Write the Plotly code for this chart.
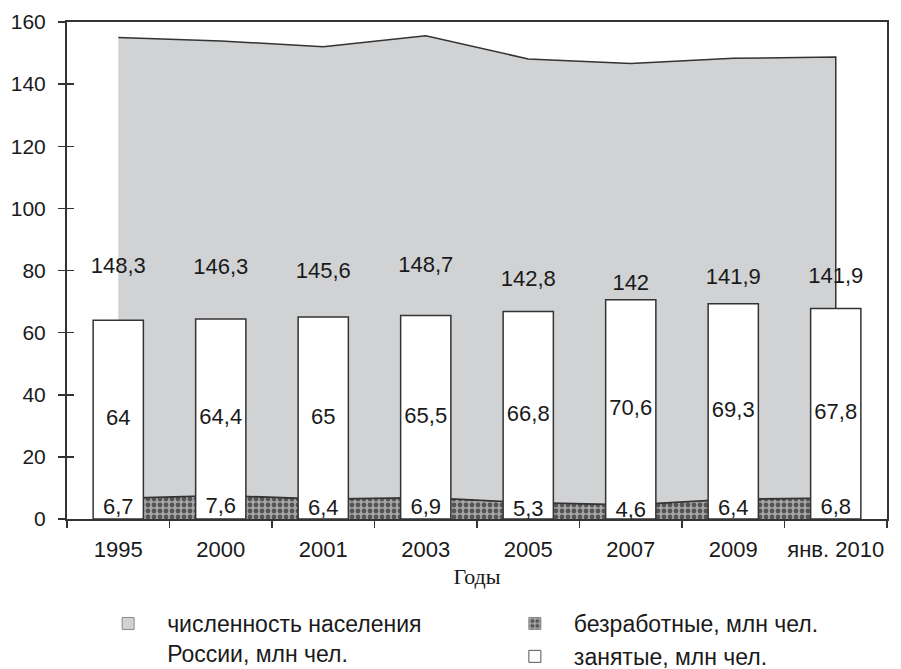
import plotly.graph_objects as go

years = ["1995", "2000", "2001", "2003", "2005", "2007", "2009", "янв. 2010"]
population = [148.3, 146.3, 145.6, 148.7, 142.8, 142.0, 141.9, 141.9]
employed = [64.0, 64.4, 65.0, 65.5, 66.8, 70.6, 69.3, 67.8]
unemployed = [6.7, 7.6, 6.4, 6.9, 5.3, 4.6, 6.4, 6.8]

def fmt(v):
    s = ("%.1f" % v).rstrip("0").rstrip(".")
    return s.replace(".", ",")

top = [p + u for p, u in zip(population, unemployed)]
pop_mid = [u + p / 2 for p, u in zip(population, unemployed)]
emp_mid = [e / 2 for e in employed]
unemp_mid = [u / 2 for u in unemployed]

LINE = "#333333"
GRAY = "#d1d2d4"
CHK_BG = "#a6a6a6"
CHK_FG = "#555555"
checker = dict(shape=".", bgcolor=CHK_BG, fgcolor=CHK_FG, size=6, solidity=0.5, fillmode="replace")
FONT = "Liberation Sans, Arial, sans-serif"

fig = go.Figure()

# unemployed area (checkered)
fig.add_trace(go.Scatter(
    x=years, y=unemployed, mode="lines", fill="tozeroy",
    line=dict(color=LINE, width=1.5), fillcolor=CHK_BG,
    fillpattern=checker, showlegend=False, hoverinfo="skip"))

# population band stacked above the unemployed area
fig.add_trace(go.Scatter(
    x=years + years[::-1], y=top + unemployed[::-1], mode="lines", fill="toself",
    line=dict(color=LINE, width=1.5), fillcolor=GRAY,
    showlegend=False, hoverinfo="skip"))

# employed bars on overlay axes (drawn above the areas)
fig.add_trace(go.Bar(
    x=years, y=employed, xaxis="x2", yaxis="y2", width=0.49,
    marker=dict(color="white", line=dict(color=LINE, width=1.5)),
    showlegend=False, hoverinfo="skip"))

label_font = dict(family=FONT, size=22, color="#1a1a1a")
fig.add_trace(go.Scatter(x=years, y=pop_mid, xaxis="x2", yaxis="y2", mode="text",
                         text=[fmt(v) for v in population], textfont=label_font,
                         showlegend=False, hoverinfo="skip"))
fig.add_trace(go.Scatter(x=years, y=emp_mid, xaxis="x2", yaxis="y2", mode="text",
                         text=[fmt(v) for v in employed], textfont=label_font,
                         showlegend=False, hoverinfo="skip"))
fig.add_trace(go.Scatter(x=years, y=unemp_mid, xaxis="x2", yaxis="y2", mode="text",
                         text=[fmt(v) for v in unemployed], textfont=label_font,
                         showlegend=False, hoverinfo="skip"))

# legend entries
fig.add_trace(go.Bar(x=[None], y=[None], name="численность населения<br>России, млн чел.",
                     marker=dict(color=GRAY, line=dict(color="#8a8a8a", width=1)),
                     legend="legend", showlegend=True))
fig.add_trace(go.Bar(x=[None], y=[None], name="безработные, млн чел.",
                     marker=dict(color=CHK_BG, pattern=dict(shape=".", bgcolor=CHK_BG, fgcolor=CHK_FG, size=6, solidity=0.5, fillmode="replace"),
                                 line=dict(color="#8a8a8a", width=1)),
                     legend="legend2", showlegend=True))
fig.add_trace(go.Bar(x=[None], y=[None], name="занятые, млн чел.",
                     marker=dict(color="white", line=dict(color="#555555", width=1)),
                     legend="legend2", showlegend=True))

axis_common = dict(categoryorder="array", categoryarray=years, range=[-0.5, 7.5])
legend_font = dict(family=FONT, size=23, color="#1a1a1a")

fig.update_layout(
    width=901, height=669,
    margin=dict(l=67, r=14, t=22, b=150, autoexpand=False),
    paper_bgcolor="white", plot_bgcolor="white",
    font=dict(family=FONT, size=21, color="#1a1a1a"),
    xaxis=dict(type="category", **axis_common, automargin=False,
               showline=True, linecolor=LINE, linewidth=2, mirror=True,
               ticks="outside", tickson="boundaries", ticklen=7, tickwidth=1.5, tickcolor=LINE,
               tickangle=0, ticklabelstandoff=10,
               tickfont=dict(family=FONT, size=22, color="#1a1a1a"),
               showgrid=False, zeroline=False,
               title=dict(text="Годы", font=dict(family="Liberation Serif, Times New Roman, serif", size=22, color="#1a1a1a"), standoff=7)),
    yaxis=dict(range=[0, 160], dtick=20, showline=True, linecolor=LINE, linewidth=2, mirror=True,
               automargin=False, ticklabelstandoff=8,
               ticks="outside", ticklen=7, tickwidth=1.5, tickcolor=LINE,
               tickfont=dict(family=FONT, size=21, color="#1a1a1a"),
               showgrid=False, zeroline=False),
    xaxis2=dict(type="category", **axis_common, overlaying="x", visible=False),
    yaxis2=dict(range=[0, 160], dtick=20, overlaying="y", anchor="x2", side="left",
                ticks="inside", ticklen=7, tickwidth=1.5, tickcolor=LINE,
                showticklabels=False, showline=False, showgrid=False, zeroline=False),
    legend=dict(x=0.027, y=-0.167, xanchor="left", yanchor="top", valign="top", itemwidth=68,
                font=legend_font, bgcolor="rgba(0,0,0,0)"),
    legend2=dict(x=0.523, y=-0.167, xanchor="left", yanchor="top", valign="top", itemwidth=68,
                 font=legend_font, bgcolor="rgba(0,0,0,0)", tracegroupgap=0),
    bargap=0.5,
)

fig.write_html("out.html", config={"displayModeBar": False, "staticPlot": True},
               post_script="document.body.style.margin='0';")
